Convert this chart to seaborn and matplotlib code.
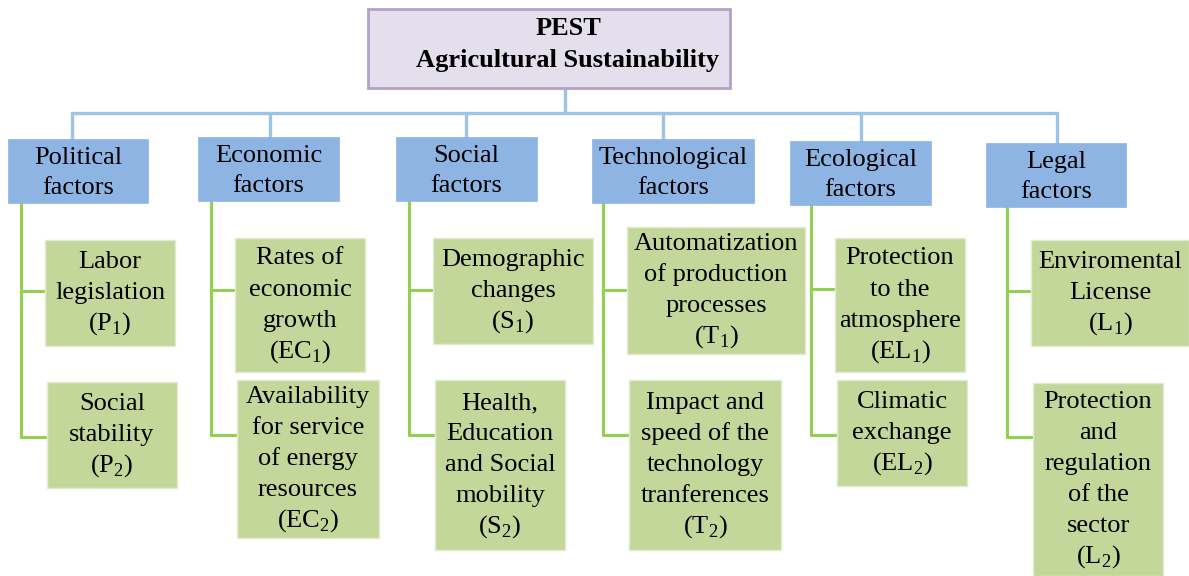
import matplotlib
matplotlib.use("Agg")
import matplotlib.pyplot as plt
import matplotlib.patches as patches
import seaborn as sns

# Chart content
title_lines = ["PEST", "Agricultural Sustainability"]
factors = ["Political\nfactors", "Economic\nfactors", "Social\nfactors",
           "Technological\nfactors", "Ecological\nfactors", "Legal\nfactors"]
first_items = ["Labor\nlegislation\n(P$_\\mathregular{1}$)",
               "Rates of\neconomic\ngrowth\n(EC$_\\mathregular{1}$)",
               "Demographic\nchanges\n(S$_\\mathregular{1}$)",
               "Automatization\nof production\nprocesses\n(T$_\\mathregular{1}$)",
               "Protection\nto the\natmosphere\n(EL$_\\mathregular{1}$)",
               "Enviromental\nLicense\n(L$_\\mathregular{1}$)"]
second_items = ["Social\nstability\n(P$_\\mathregular{2}$)",
                "Availability\nfor service\nof energy\nresources\n(EC$_\\mathregular{2}$)",
                "Health,\nEducation\nand Social\nmobility\n(S$_\\mathregular{2}$)",
                "Impact and\nspeed of the\ntechnology\ntranferences\n(T$_\\mathregular{2}$)",
                "Climatic\nexchange\n(EL$_\\mathregular{2}$)",
                "Protection\nand\nregulation\nof the\nsector\n(L$_\\mathregular{2}$)"]

# Layout (pixel space, y downwards): boxes as (x0, y0, x1, y1)
top_box = (368, 9, 730, 88)
factor_boxes = [(8, 139, 148, 203), (198, 137, 339, 201), (396, 137, 537, 201),
                (592, 139, 754, 203), (790, 141, 931, 205), (986, 143, 1126, 207)]
first_boxes = [(45, 240, 175, 346), (235, 238, 365, 372), (433, 238, 593, 344),
               (627, 227, 805, 354), (835, 238, 965, 372), (1031, 240, 1189, 346)]
second_boxes = [(47, 382, 177, 488), (237, 380, 379, 538), (435, 380, 565, 550),
                (629, 380, 781, 550), (837, 380, 967, 486), (1033, 383, 1163, 576)]
drop_x = [72, 270, 466, 663, 861, 1057]
stem_x = [21, 211, 409, 603, 811, 1007]
branch1_y = [291, 290, 290, 290, 289, 291]
branch2_y = [437, 435, 435, 435, 435, 437]
bus_y = 113

sns.set_theme(style="white")
plt.rcParams["font.family"] = ["Liberation Serif", "DejaVu Serif"]
plt.rcParams["mathtext.fontset"] = "custom"
plt.rcParams["mathtext.rm"] = "Liberation Serif"

blue_line = "#9DC3E6"
green_line = "#92D050"
blue_fill = "#8DB4E2"
green_fill = "#C4D79B"

fig = plt.figure(figsize=(11.89, 5.76), dpi=100)
ax = fig.add_axes([0, 0, 1, 1])
ax.set_xlim(0, 1189)
ax.set_ylim(576, 0)
ax.axis("off")


def box(b, fill, edge, lw):
    x0, y0, x1, y1 = b
    ax.add_patch(patches.Rectangle((x0, y0), x1 - x0, y1 - y0, facecolor=fill,
                                   edgecolor=edge, linewidth=lw, zorder=3))


def lines_text(cx, cy, label, pitch, **kw):
    # one text per line so the spacing stays even with subscripts
    rows = label.split("\n")
    n = len(rows)
    for i, row in enumerate(rows):
        y = cy + (i - (n - 1) / 2) * pitch
        ax.text(cx, y, row, ha="center", va="baseline", fontsize=19,
                color="black", zorder=4, **kw)


# blue connectors
ax.plot([565, 565], [top_box[3], bus_y], color=blue_line, lw=2.4, zorder=1)
ax.plot([drop_x[0], drop_x[-1]], [bus_y, bus_y], color=blue_line, lw=2.4, zorder=1)
for x, b in zip(drop_x, factor_boxes):
    ax.plot([x, x], [bus_y, b[1]], color=blue_line, lw=2.4, zorder=1)

# green connectors
for i in range(6):
    sx = stem_x[i]
    ax.plot([sx, sx], [factor_boxes[i][3], branch2_y[i]], color=green_line, lw=2.2, zorder=1)
    ax.plot([sx, first_boxes[i][0]], [branch1_y[i]] * 2, color=green_line, lw=2.2, zorder=1)
    ax.plot([sx, second_boxes[i][0]], [branch2_y[i]] * 2, color=green_line, lw=2.2, zorder=1)

# top box
box(top_box, "#E4DFEC", "#B3A2C7", 2)
lines_text(568, 51, "\n".join(title_lines), 32, fontweight="bold")

for i in range(6):
    fb = factor_boxes[i]
    box(fb, blue_fill, blue_fill, 0.5)
    lines_text((fb[0] + fb[2]) / 2, (fb[1] + fb[3]) / 2 + 8, factors[i], 30)
    for b, label in ((first_boxes[i], first_items[i]), (second_boxes[i], second_items[i])):
        box(b, green_fill, "#E2EBCD", 1)
        lines_text((b[0] + b[2]) / 2, (b[1] + b[3]) / 2 + 6, label, 31)

fig.savefig("out.png", dpi=100)
